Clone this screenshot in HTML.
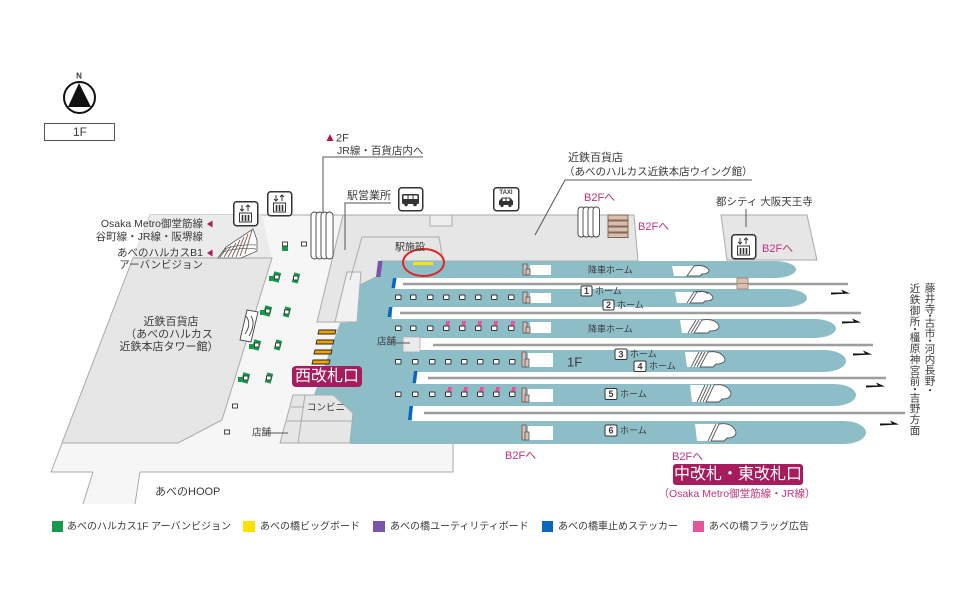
<!DOCTYPE html>
<html><head><meta charset="utf-8">
<style>
html,body{margin:0;padding:0;background:#fff;}
svg{display:block;}
text{font-family:"Liberation Sans","Noto Sans CJK JP",sans-serif;fill:#3a3a3a;dominant-baseline:central;}
.m{fill:#c4317c;}
.w{fill:#fff;}
</style></head><body>
<svg width="960" height="605" viewBox="0 0 960 605" xmlns="http://www.w3.org/2000/svg">
<rect width="960" height="605" fill="#fff"/>

<!-- compass -->
<text x="79" y="76" font-size="8" font-weight="bold" text-anchor="middle" fill="#111">N</text>
<circle cx="79.5" cy="97.5" r="15.5" fill="#fff" stroke="#111" stroke-width="2"/>
<polygon points="79,83 68,107 91,107" fill="#111"/>
<rect x="44.5" y="123.5" width="70" height="17" fill="#fff" stroke="#555" stroke-width="1"/>
<text x="80" y="132" font-size="12" text-anchor="middle">1F</text>

<!-- floor -->
<polygon points="150,215 345,215 380,261 380,443 453,443 453,472 140,472 135,504 83,504 93,472 51,472" fill="#f6f6f6"/>
<polyline points="93,472 51,472 150,215 345,215" fill="none" stroke="#aaa" stroke-width="1"/>
<polyline points="140,472 453,472 453,443" fill="none" stroke="#aaa" stroke-width="1"/>
<line x1="93" y1="472" x2="83" y2="504" stroke="#aaa"/>
<line x1="140" y1="472" x2="135" y2="504" stroke="#aaa"/>

<!-- top-left gray area -->
<polygon points="150,215 262,215 272,258 133,258" fill="#ebebeb"/>
<!-- left department block -->
<polygon points="133,258 272,258 222,420 178,443 62,443" fill="#e6e6e6" stroke="#aaa" stroke-width="1"/>

<!-- top block -->
<polygon points="343,215 634,215 638,261 380,261 380,275 360,285 357,322 317,322" fill="#e6e6e6" stroke="#aaa" stroke-width="1"/>
<polygon points="347,272 361,272 357,322 335,322" fill="#f1f1f1" stroke="#aaa" stroke-width="1"/>
<polyline points="350,280 362,237 439,237 443,261" fill="none" stroke="#aaa" stroke-width="1"/>
<rect x="430" y="215" width="22" height="11" fill="#eee" stroke="#aaa" stroke-width="1"/>

<!-- 都シティ box -->
<polygon points="721,215 807,215 817,260 727,260" fill="#e6e6e6" stroke="#aaa" stroke-width="1"/>

<!-- teal concourse -->
<polygon points="380,261 440,261 440,444 350,444 353,413 334,395 314,395 340,323 357,322 360,285 380,275" fill="#8dbec8"/>
<!-- platforms -->
<path d="M380,261 H774 A22,8.5 0 0 1 774,278 H380 Z" fill="#8dbec8"/>
<path d="M400,289 H785 A22,9 0 0 1 785,307 H400 Z" fill="#8dbec8"/>
<path d="M400,319 H814 A22,9.5 0 0 1 814,338 H400 Z" fill="#8dbec8"/>
<path d="M400,350 H824 A22,11 0 0 1 824,372 H400 Z" fill="#8dbec8"/>
<path d="M400,384 H834 A22,11 0 0 1 834,406 H400 Z" fill="#8dbec8"/>
<path d="M400,421 H844 A22,11.5 0 0 1 844,444 H400 Z" fill="#8dbec8"/>

<!-- track strips -->
<rect x="395" y="278" width="470" height="11" fill="#fff"/>
<rect x="392" y="307" width="480" height="12" fill="#fff"/>
<rect x="420" y="338" width="460" height="12" fill="#fff"/>
<rect x="416" y="372" width="480" height="12" fill="#fff"/>
<rect x="412" y="406" width="500" height="15" fill="#fff"/>
<g stroke="#9d9d9d" stroke-width="2.6">
<line x1="403" y1="284" x2="848" y2="284"/>
<line x1="400" y1="313" x2="861" y2="313"/>
<line x1="433" y1="345" x2="873" y2="345"/>
<line x1="428" y1="378" x2="886" y2="378"/>
<line x1="424" y1="413" x2="905" y2="413"/>
</g>
<!-- blue stoppers -->
<g fill="#0b67bb">
<polygon points="393,278 396.5,278 395,288 391.5,288"/>
<polygon points="389,307 392.5,307 391,317 387.5,317"/>
<polygon points="414,371 417.5,371 416,383 412.5,383"/>
<polygon points="409.5,406 413,406 411.5,420 408,420"/>
</g>
<!-- purple board -->
<polygon points="378,261 382.5,261 380.5,277 376,277" fill="#7a55a5"/>
<!-- yellow board & red circle -->
<rect x="413" y="262" width="20" height="3" fill="#ffe100"/>
<ellipse cx="423.5" cy="262.5" rx="20.5" ry="13.5" fill="none" stroke="#e02525" stroke-width="2"/>
<text x="395" y="248" font-size="10">駅施設</text>

<!-- arrows -->
<g fill="#111">
<polygon points="831,292.5 843,292.5 841,289.5 850,293.5 831,294.5"/>
<polygon points="842,321.5 854,321.5 852,318.5 861,322.5 842,323.5"/>
<polygon points="853,353.5 865,353.5 863,350.5 872,354.5 853,355.5"/>
<polygon points="866,385.5 878,385.5 876,382.5 885,386.5 866,387.5"/>
<polygon points="880,423.5 892,423.5 890,420.5 899,424.5 880,425.5"/>
</g>

<!-- tan connector -->
<rect x="737" y="278" width="11" height="11" fill="#d9bfb2" stroke="#9a7a6a" stroke-width="0.8"/>
<line x1="737" y1="283.5" x2="748" y2="283.5" stroke="#9a7a6a" stroke-width="0.8"/>

<!-- tan + white rects on platforms -->
<g>
<rect x="530" y="265" width="21" height="10" fill="#fff"/>
<rect x="530" y="293" width="21" height="10" fill="#fff"/>
<rect x="530" y="322" width="21" height="11" fill="#fff"/>
<rect x="528" y="353" width="25" height="14" fill="#fff"/>
<rect x="528" y="389" width="25" height="13" fill="#fff"/>
<rect x="528" y="426" width="25" height="14" fill="#fff"/>
</g>
<g fill="#d9bfb2" stroke="#555" stroke-width="0.8">
<rect x="523" y="264" width="4" height="11"/><rect x="526" y="269" width="4" height="6"/>
<rect x="523" y="292" width="4" height="11"/><rect x="526" y="297" width="4" height="6"/>
<rect x="523" y="322" width="4" height="11"/><rect x="526" y="327" width="4" height="6"/>
<rect x="522" y="352" width="4" height="15"/><rect x="525" y="359" width="4" height="8"/>
<rect x="522" y="388" width="4" height="14"/><rect x="525" y="395" width="4" height="7"/>
<rect x="522" y="425" width="4" height="15"/><rect x="525" y="432" width="4" height="8"/>
</g>

<!-- pink flags -->
<g fill="#e4559c">
<polygon points="446,321 450,321 449,328 445,328"/>
<polygon points="462,321 466,321 465,328 461,328"/>
<polygon points="478,321 482,321 481,328 477,328"/>
<polygon points="494,321 498,321 497,328 493,328"/>
<polygon points="511,321 515,321 514,328 510,328"/>
<polygon points="448,387 452,387 451,394 447,394"/>
<polygon points="464,387 468,387 467,394 463,394"/>
<polygon points="480,387 484,387 483,394 479,394"/>
<polygon points="496,387 500,387 499,394 495,394"/>
<polygon points="512,387 516,387 515,394 511,394"/>
</g>
<!-- white squares -->
<g fill="#fff" stroke="#333" stroke-width="1">
<rect x="395.5" y="295" width="5.5" height="4.5" rx="0.6"/><rect x="410.5" y="295" width="5.5" height="4.5" rx="0.6"/><rect x="427.5" y="295" width="5.5" height="4.5" rx="0.6"/><rect x="443.5" y="295" width="5.5" height="4.5" rx="0.6"/><rect x="459.5" y="295" width="5.5" height="4.5" rx="0.6"/><rect x="475.5" y="295" width="5.5" height="4.5" rx="0.6"/><rect x="491.5" y="295" width="5.5" height="4.5" rx="0.6"/><rect x="508.5" y="295" width="5.5" height="4.5" rx="0.6"/>
<rect x="395.5" y="326" width="5.5" height="4.5" rx="0.6"/><rect x="410.5" y="326" width="5.5" height="4.5" rx="0.6"/><rect x="427.5" y="326" width="5.5" height="4.5" rx="0.6"/><rect x="443.5" y="326" width="5.5" height="4.5" rx="0.6"/><rect x="459.5" y="326" width="5.5" height="4.5" rx="0.6"/><rect x="475.5" y="326" width="5.5" height="4.5" rx="0.6"/><rect x="491.5" y="326" width="5.5" height="4.5" rx="0.6"/><rect x="508.5" y="326" width="5.5" height="4.5" rx="0.6"/>
<rect x="395.5" y="359.5" width="5.5" height="4.5" rx="0.6"/><rect x="412.5" y="359.5" width="5.5" height="4.5" rx="0.6"/><rect x="429.5" y="359.5" width="5.5" height="4.5" rx="0.6"/><rect x="445.5" y="359.5" width="5.5" height="4.5" rx="0.6"/><rect x="461.5" y="359.5" width="5.5" height="4.5" rx="0.6"/><rect x="477.5" y="359.5" width="5.5" height="4.5" rx="0.6"/><rect x="493.5" y="359.5" width="5.5" height="4.5" rx="0.6"/><rect x="509.5" y="359.5" width="5.5" height="4.5" rx="0.6"/>
<rect x="395.5" y="392" width="5.5" height="4.5" rx="0.6"/><rect x="412.5" y="392" width="5.5" height="4.5" rx="0.6"/><rect x="429.5" y="392" width="5.5" height="4.5" rx="0.6"/><rect x="445.5" y="392" width="5.5" height="4.5" rx="0.6"/><rect x="461.5" y="392" width="5.5" height="4.5" rx="0.6"/><rect x="477.5" y="392" width="5.5" height="4.5" rx="0.6"/><rect x="493.5" y="392" width="5.5" height="4.5" rx="0.6"/><rect x="509.5" y="392" width="5.5" height="4.5" rx="0.6"/>
</g>

<!-- platform escalators -->
<g fill="#fff" stroke="#555" stroke-width="0.9">
<polygon points="672,266 700,266 697,276 674,276" stroke="none"/>
<path d="M687,276 L694,266 Q705,264 709,270 Q709,274 702,274 L700,276 Z"/>
<polygon points="675,292 703,292 700,303 677,303" stroke="none"/>
<path d="M690,303 L697,292 Q709,290 713,297 Q713,301 705,301 L703,303 Z"/>
<path d="M687,303 L694,292 Q704,290 708,294" fill="none"/>
<polygon points="680,320 710,320 707,333 682,333" stroke="none"/>
<path d="M694,333 L702,320 Q715,318 719,326 Q719,331 710,331 L708,333 Z"/>
<path d="M691,333 L699,320" fill="none"/><path d="M688,333 L696,320" fill="none"/>
<polygon points="685,352 715,352 712,367 687,367" stroke="none"/>
<path d="M700,367 L708,352 Q721,350 725,359 Q725,364 716,364 L713,367 Z"/>
<path d="M697,367 L705,352" fill="none"/><path d="M694,367 L702,352" fill="none"/><path d="M691,367 L699,352" fill="none"/>
<polygon points="690,385 720,385 717,402 692,402" stroke="none"/>
<path d="M706,402 L714,385 Q727,383 731,393 Q731,399 722,399 L719,402 Z"/>
<path d="M703,402 L711,385" fill="none"/><path d="M700,402 L708,385" fill="none"/><path d="M697,402 L705,385" fill="none"/>
<polygon points="695,424 725,424 722,441 697,441" stroke="none"/>
<path d="M711,441 L719,424 Q732,422 736,432 Q736,438 727,438 L724,441 Z"/>
<path d="M708,441 L716,424" fill="none"/>
</g>

<!-- platform labels -->
<text x="588" y="270" font-size="9">降車ホーム</text>
<text x="588" y="329" font-size="9">降車ホーム</text>
<g fill="#fff" stroke="#333" stroke-width="1">
<rect x="581" y="286" width="11" height="10" rx="1.5"/>
<rect x="603" y="300" width="11" height="10" rx="1.5"/>
<rect x="615" y="349" width="12" height="10.5" rx="1.5"/>
<rect x="634" y="361" width="12" height="10.5" rx="1.5"/>
<rect x="605" y="388.5" width="12" height="11" rx="1.5"/>
<rect x="605" y="425" width="12" height="11" rx="1.5"/>
</g>
<g font-size="9" font-weight="bold" text-anchor="middle">
<text x="586.5" y="291.2">1</text>
<text x="608.5" y="305.2">2</text>
<text x="621" y="354.5">3</text>
<text x="640" y="366.5">4</text>
<text x="611" y="394.2">5</text>
<text x="611" y="430.7">6</text>
</g>
<g font-size="9">
<text x="595" y="291">ホーム</text>
<text x="617" y="305">ホーム</text>
<text x="630" y="354">ホーム</text>
<text x="649" y="366">ホーム</text>
<text x="620" y="394">ホーム</text>
<text x="620" y="430.5">ホーム</text>
</g>
<text x="567" y="362" font-size="13">1F</text>

<!-- inner store box in teal -->
<rect x="403" y="337" width="17" height="15" fill="#eaeaea" stroke="#aaa" stroke-width="0.8"/>
<text x="377" y="342" font-size="9.5">店舗</text>
<line x1="396" y1="343" x2="410" y2="343" stroke="#555" stroke-width="1"/>

<!-- convenience store block -->
<polygon points="293,395 333,395 353,413 350,443 280,443" fill="#e6e6e6" stroke="#aaa" stroke-width="1"/>
<polyline points="305,395 298,443" fill="none" stroke="#aaa"/>
<line x1="291" y1="407" x2="304" y2="407" stroke="#aaa"/>
<line x1="287" y1="421" x2="352" y2="421" stroke="#aaa"/>
<text x="307" y="408" font-size="9.5">コンビニ</text>
<text x="252" y="433" font-size="9.5">店舗</text>
<line x1="270" y1="433" x2="288" y2="433" stroke="#555" stroke-width="1"/>

<!-- orange gates -->
<g fill="#f2a200" stroke="#222" stroke-width="0.9">
<polygon points="319,330 336,330 335,334 318,334"/>
<polygon points="317,340 334,340 333,344 316,344"/>
<polygon points="315,350 332,350 331,354 314,354"/>
<polygon points="313,360 330,360 329,364 312,364"/>
</g>
<rect x="292" y="366" width="70" height="21" rx="4" fill="#a61c5c"/>
<text x="327" y="376.5" font-size="16" text-anchor="middle" class="w">西改札口</text>

<!-- green signs -->
<g fill="#149a48">
<rect x="282" y="245" width="6" height="6"/>
<rect x="273" y="272" width="7" height="10" transform="rotate(15 276.5 277)"/><rect x="269" y="276" width="5" height="5"/>
<rect x="293" y="273" width="6" height="10" transform="rotate(15 296 278)"/>
<rect x="264" y="306" width="7" height="10" transform="rotate(15 267.5 311)"/><rect x="260" y="310" width="5" height="5"/>
<rect x="284" y="307" width="6" height="10" transform="rotate(15 287 312)"/>
<rect x="253" y="340" width="7" height="10" transform="rotate(15 256.5 345)"/><rect x="249" y="344" width="5" height="5"/>
<rect x="275" y="340" width="6" height="10" transform="rotate(15 278 345)"/>
<rect x="242" y="373" width="7" height="10" transform="rotate(15 245.5 378)"/><rect x="238" y="377" width="5" height="5"/>
<rect x="266" y="373" width="6" height="10" transform="rotate(15 269 378)"/>
</g>
<g fill="#fff" stroke="#333" stroke-width="0.9">
<rect x="282.5" y="242" width="5" height="4"/>
<rect x="301.5" y="242" width="5" height="4"/>
<rect x="274.5" y="275" width="4.5" height="4"/>
<rect x="293.5" y="276" width="4.5" height="4"/>
<rect x="265.5" y="309" width="4.5" height="4"/>
<rect x="284.5" y="310" width="4.5" height="4"/>
<rect x="254.5" y="343" width="4.5" height="4"/>
<rect x="275.5" y="343" width="4.5" height="4"/>
<rect x="243.5" y="376" width="4.5" height="4"/>
<rect x="266.5" y="376" width="4.5" height="4"/>
<rect x="232.5" y="404" width="5" height="4"/>
<rect x="224.5" y="430" width="5" height="4"/>
</g>

<!-- small escalator by block -->
<g fill="#fff" stroke="#444" stroke-width="0.9">
<path d="M247,310 L258,312 L251,342 L240,340 Z"/>
<path d="M246,316 Q252,324 245,334" fill="none"/>
<path d="M251,316 Q256,324 249,336" fill="none"/>
</g>

<!-- JR escalator -->
<g fill="#fff" stroke="#444" stroke-width="0.9">
<rect x="311" y="212" width="7" height="47" rx="3.5"/>
<rect x="316" y="212" width="7" height="47" rx="3.5"/>
<rect x="321" y="212" width="7" height="47" rx="3.5"/>
<rect x="326" y="212" width="7" height="47" rx="3.5"/>
</g>
<!-- metro escalator -->
<g>
<polygon points="218,258 241,258 257,251 257,240 253,229 226,247" fill="#fff" stroke="#555" stroke-width="0.8"/>
<g stroke="#7a5a4a" stroke-width="0.9">
<line x1="220" y1="257" x2="226" y2="249"/><line x1="224" y1="257" x2="231" y2="246"/>
<line x1="228" y1="257" x2="236" y2="243"/><line x1="232" y1="257" x2="240" y2="240"/>
<line x1="236" y1="257" x2="244" y2="237"/><line x1="240" y1="256" x2="248" y2="234"/>
<line x1="245" y1="254" x2="252" y2="230"/>
</g>
<path d="M222,252 Q240,247 256,249 M224,249 Q240,244 256,245" fill="none" stroke="#555" stroke-width="0.7"/>
</g>

<!-- B2F escalator & stairs -->
<g fill="#fff" stroke="#444" stroke-width="0.9">
<rect x="578" y="207" width="6.5" height="30" rx="3"/>
<rect x="583" y="207" width="6.5" height="30" rx="3"/>
<rect x="588" y="207" width="6.5" height="30" rx="3"/>
<rect x="593" y="207" width="6.5" height="30" rx="3"/>
</g>
<g fill="#d9bfb2" stroke="#7a5a4a" stroke-width="0.9">
<rect x="608" y="215" width="20" height="5"/>
<rect x="608" y="221" width="20" height="5"/>
<rect x="608" y="227" width="20" height="5"/>
<rect x="608" y="233" width="20" height="4.5"/>
</g>

<!-- elevator icons -->
<g transform="translate(233,201)">
<rect x="0.75" y="0.75" width="24" height="24" rx="3" fill="#fff" stroke="#333" stroke-width="1.5"/>
<path d="M9,4 V10 M7,8 L9,10 L11,8 M15,10 V4 M13,6 L15,4 L17,6" stroke="#333" stroke-width="1" fill="none"/>
<rect x="6.5" y="12" width="12" height="9" fill="#fff" stroke="#333" stroke-width="1"/>
<path d="M9.5,14 V20 M12.5,14 V20 M15.5,14 V20" stroke="#333" stroke-width="1.6"/>
</g>
<g transform="translate(267,191)">
<rect x="0.75" y="0.75" width="24" height="24" rx="3" fill="#fff" stroke="#333" stroke-width="1.5"/>
<path d="M9,4 V10 M7,8 L9,10 L11,8 M15,10 V4 M13,6 L15,4 L17,6" stroke="#333" stroke-width="1" fill="none"/>
<rect x="6.5" y="12" width="12" height="9" fill="#fff" stroke="#333" stroke-width="1"/>
<path d="M9.5,14 V20 M12.5,14 V20 M15.5,14 V20" stroke="#333" stroke-width="1.6"/>
</g>
<g transform="translate(731,234)">
<rect x="0.75" y="0.75" width="24" height="24" rx="3" fill="#fff" stroke="#333" stroke-width="1.5"/>
<path d="M9,4 V10 M7,8 L9,10 L11,8 M15,10 V4 M13,6 L15,4 L17,6" stroke="#333" stroke-width="1" fill="none"/>
<rect x="6.5" y="12" width="12" height="9" fill="#fff" stroke="#333" stroke-width="1"/>
<path d="M9.5,14 V20 M12.5,14 V20 M15.5,14 V20" stroke="#333" stroke-width="1.6"/>
</g>

<!-- bus -->
<g transform="translate(398,187)">
<rect x="0.75" y="0.75" width="24" height="23" rx="3" fill="#fff" stroke="#333" stroke-width="1.5"/>
<rect x="4" y="7" width="17" height="10" rx="1.5" fill="#333"/>
<rect x="5.5" y="8.5" width="4" height="3.5" fill="#fff"/><rect x="10.5" y="8.5" width="4" height="3.5" fill="#fff"/><rect x="15.5" y="8.5" width="4" height="3.5" fill="#fff"/>
<circle cx="8" cy="17.5" r="1.8" fill="#333"/><circle cx="17" cy="17.5" r="1.8" fill="#333"/>
</g>
<!-- taxi -->
<g transform="translate(493,187)">
<rect x="0.75" y="0.75" width="25" height="23" rx="3" fill="#fff" stroke="#333" stroke-width="1.5"/>
<text x="13" y="6" font-size="6" font-weight="bold" text-anchor="middle" fill="#222">TAXI</text>
<path d="M6,18 V14 L9,10.5 H17 L20,14 V18 Z" fill="#333"/>
<rect x="9.5" y="11.5" width="3" height="2.5" fill="#fff"/><rect x="13.5" y="11.5" width="3" height="2.5" fill="#fff"/>
<circle cx="9" cy="18.5" r="1.6" fill="#333"/><circle cx="17" cy="18.5" r="1.6" fill="#333"/>
</g>

<!-- leader lines -->
<g stroke="#555" stroke-width="1" fill="none">
<polyline points="423,157 323,157 323,213"/>
<polyline points="391,203 345,203 345,250"/>
<polyline points="752,180 565,180 535,235"/>
<line x1="746" y1="209" x2="746" y2="227"/>
</g>

<!-- labels -->
<polygon points="330,134 326.5,141 333.5,141" fill="#b0185a"/>
<text x="336" y="138.5" font-size="11">2F</text>
<text x="337" y="151" font-size="10.5">JR線・百貨店内へ</text>
<text x="347" y="196" font-size="11">駅営業所</text>
<text x="568" y="158" font-size="11">近鉄百貨店</text>
<text x="564" y="172" font-size="10.5">（あべのハルカス近鉄本店ウイング館）</text>
<text x="584" y="198" font-size="11" class="m">B2Fへ</text>
<text x="638" y="227" font-size="11" class="m">B2Fへ</text>
<text x="716" y="202" font-size="10.5">都シティ 大阪天王寺</text>
<text x="762" y="249" font-size="11" class="m">B2Fへ</text>

<g font-size="10.5" text-anchor="end">
<text x="203" y="224">Osaka Metro御堂筋線</text>
<text x="203" y="237">谷町線・JR線・阪堺線</text>
<text x="203" y="253">あべのハルカスB1</text>
<text x="203" y="265">アーバンビジョン</text>
</g>
<polygon points="207,224 212.5,220.5 212.5,227.5" fill="#b0185a"/>
<polygon points="207,253 212.5,249.5 212.5,256.5" fill="#b0185a"/>

<g font-size="11" text-anchor="middle">
<text x="171" y="322">近鉄百貨店</text>
<text x="169" y="334.5">（あべのハルカス</text>
<text x="169" y="347">近鉄本店タワー館）</text>
</g>
<text x="155" y="492" font-size="11">あべのHOOP</text>

<text x="505" y="456" font-size="11" class="m">B2Fへ</text>
<text x="672" y="457" font-size="11" class="m">B2Fへ</text>
<rect x="673" y="464" width="130" height="21" rx="3" fill="#a61c5c"/>
<text x="738" y="474.5" font-size="16" text-anchor="middle" class="w">中改札・東改札口</text>
<text x="737" y="494" font-size="10.5" text-anchor="middle" class="m">（Osaka Metro御堂筋線・JR線）</text>

<!-- vertical text -->
<g font-size="10.5" text-anchor="middle">
<text x="930" y="288.5">藤</text><text x="930" y="299">井</text><text x="930" y="309.5">寺</text><text x="930" y="316.5">・</text>
<text x="930" y="323.5">古</text><text x="930" y="334">市</text><text x="930" y="341.5">・</text>
<text x="930" y="349.5">河</text><text x="930" y="360">内</text><text x="930" y="370.5">長</text><text x="930" y="381.5">野</text><text x="930" y="391">・</text>
<text x="915" y="289">近</text><text x="915" y="300">鉄</text><text x="915" y="311">御</text><text x="915" y="322">所</text><text x="915" y="330">・</text>
<text x="915" y="338">橿</text><text x="915" y="349">原</text><text x="915" y="360">神</text><text x="915" y="371">宮</text><text x="915" y="381.5">前</text><text x="915" y="390">・</text>
<text x="915" y="398.5">吉</text><text x="915" y="409">野</text><text x="915" y="420">方</text><text x="915" y="431">面</text>
</g>

<!-- legend -->
<rect x="52" y="521" width="11" height="11" fill="#149a48"/>
<text x="67" y="527" font-size="10">あべのハルカス1F アーバンビジョン</text>
<rect x="243" y="521" width="12" height="11" fill="#ffe100"/>
<text x="260" y="527" font-size="10">あべの橋ビッグボード</text>
<rect x="373" y="521" width="12" height="11" fill="#7a55a5"/>
<text x="390" y="527" font-size="10">あべの橋ユーティリティボード</text>
<rect x="542" y="521" width="11" height="11" fill="#0b67bb"/>
<text x="558" y="527" font-size="10">あべの橋車止めステッカー</text>
<rect x="693" y="521" width="11" height="11" fill="#e4559c"/>
<text x="709" y="527" font-size="10">あべの橋フラッグ広告</text>
</svg>
</body></html>
